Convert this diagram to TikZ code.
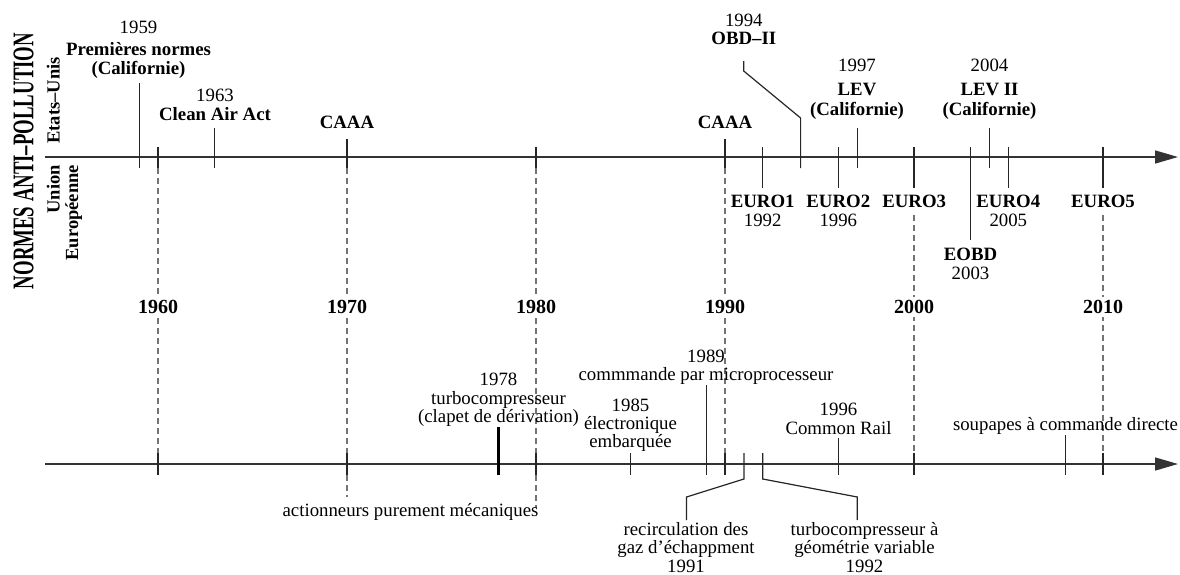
\documentclass[tikz,border=0pt]{standalone}
\usepackage{graphicx}
\usepackage{fontspec}
\setmainfont{Liberation Serif}
\usetikzlibrary{arrows.meta}
\begin{document}
\begin{tikzpicture}[x=1pt,y=-1pt,
  every node/.style={inner sep=0pt},
  lbl/.style={font=\fontsize{18.8}{19}\selectfont, align=center},
  blbl/.style={font=\fontsize{18.8}{19}\selectfont\bfseries, align=center},
  blk/.style={lbl, anchor=north},
  decade/.style={font=\fontsize{20}{22}\selectfont\bfseries, fill=white, inner sep=3pt, anchor=base},
  axisline/.style={line width=1.4pt, draw=black!80, -{Triangle[length=23pt,width=13pt]}},
  tick/.style={line width=1.2pt, draw=black!85},
  thicktick/.style={line width=3pt, draw=black},
  guide/.style={line width=1.1pt, draw=black!55, dash pattern=on 5.5pt off 4.5pt},
  side/.style={font=\fontsize{18.5}{19}\selectfont\bfseries, rotate=90},
]
\useasboundingbox (0,0) rectangle (1180,574);

% ---------- axes ----------
\coordinate (tA0) at (45,157);  \coordinate (tA1) at (1178,157);
\coordinate (bA0) at (45,464);  \coordinate (bA1) at (1178,464);
\draw[axisline] (tA0) -- (tA1);
\draw[axisline] (bA0) -- (bA1);

% ---------- decade guides ----------
\draw[guide] (158,168) -- (158,453);
\draw[guide] (347,168) -- (347,453);
\draw[guide] (536,168) -- (536,453);
\draw[guide] (725,168) -- (725,453);
\draw[guide] (914,215) -- (914,453);
\draw[guide] (1103,215) -- (1103,453);
\draw[guide] (347,475) -- (347,497);
\draw[guide] (536,475) -- (536,508);

\node[decade] (d1960) at (158,313.3) {1960};
\node[decade] (d1970) at (347,313.3) {1970};
\node[decade] (d1980) at (536,313.3) {1980};
\node[decade] (d1990) at (725,313.3) {1990};
\node[decade] (d2000) at (914,313.3) {2000};
\node[decade] (d2010) at (1103,313.3) {2010};

% ---------- side titles ----------
\node[rotate=90, anchor=base, font=\fontsize{30}{32}\selectfont\bfseries] (title) at (33.3,161)
  {\scalebox{0.626}[1]{NORMES ANTI–POLLUTION}};
\node[side, anchor=base] (us) at (59.5,100.5) {Etats–Unis};
\node[side, anchor=base east] (eu1) at (59.5,165) {Union};
\node[side, anchor=base east] (eu2) at (78,165) {Européenne};

% ---------- upper axis: regulations ----------
\draw[tick] (139.1,83) -- (139.1,168);
\draw[tick] (158,147) -- (158,168);
\draw[tick] (214.7,128) -- (214.7,168);
\draw[tick] (347,139) -- (347,168);
\draw[tick] (536,147) -- (536,168);
\draw[tick] (725,139) -- (725,168);
\draw[tick] (762.8,147) -- (762.8,188);
\draw[tick] (800.6,168) -- (800.6,118) -- (743.7,71) -- (743.7,61);
\draw[tick] (838.4,147) -- (838.4,188);
\draw[tick] (857.3,128) -- (857.3,168);
\draw[tick] (914,147) -- (914,188);
\draw[tick] (970.7,147) -- (970.7,240);
\draw[tick] (989.6,128) -- (989.6,168);
\draw[tick] (1008.5,147) -- (1008.5,188);
\draw[tick] (1103,147) -- (1103,188);

\node[blk] (n1959) at (138.5,20.9) {1959\\[3pt]\textbf{Premières normes}\\[-0.5pt]\textbf{(Californie)}};
\node[blk] (n1963) at (215,88.4) {1963\\\textbf{Clean Air Act}};
\node[blbl, anchor=base] (caaa70) at (347,128.3) {CAAA};
\node[blbl, anchor=base] (caaa90) at (725,128.3) {CAAA};
\node[blk] (n1994) at (743.8,14.1) {1994\\[-1.4pt]\textbf{OBD–II}};
\node[blk] (n1997) at (857,59.1) {1997\\[4.3pt]\textbf{LEV}\\[1pt]\textbf{(Californie)}};
\node[blk] (n2004) at (989.5,59.1) {2004\\[4.3pt]\textbf{LEV II}\\[1pt]\textbf{(Californie)}};
\node[blk] (euro1) at (762.7,194.8) {\textbf{EURO1}\\[0.4pt]1992};
\node[blk] (euro2) at (838.3,194.8) {\textbf{EURO2}\\[0.4pt]1996};
\node[blbl, anchor=base] (euro3) at (914.2,207.3) {EURO3};
\node[blk] (euro4) at (1008.3,194.8) {\textbf{EURO4}\\[0.4pt]2005};
\node[blbl, anchor=base] (euro5) at (1103,207.3) {EURO5};
\node[blk] (eobd) at (970.5,247.5) {\textbf{EOBD}\\[0.3pt]2003};

% ---------- lower axis: technologies ----------
\draw[tick] (158,453) -- (158,475);
\draw[tick] (347,453) -- (347,475);
\draw[thicktick] (498.2,427) -- (498.2,475);
\draw[tick] (536,453) -- (536,475);
\draw[tick] (630.5,453) -- (630.5,475);
\draw[tick] (706.1,385) -- (706.1,475);
\draw[tick] (725,453) -- (725,475);
\draw[tick] (743.9,453) -- (743.9,479) -- (686.5,497) -- (686.5,520);
\draw[tick] (762.8,453) -- (762.8,479) -- (857.3,497) -- (857.3,520);
\draw[tick] (838.4,438) -- (838.4,475);
\draw[tick] (914,453) -- (914,475);
\draw[tick] (1065.2,435) -- (1065.2,475);
\draw[tick] (1103,453) -- (1103,475);

\node[blk] (t1978) at (498.5,372.4) {1978\\turbocompresseur\\[-1pt](clapet de dérivation)};
\node[blk] (t1985) at (630.5,399.1) {1985\\[-1pt]électronique\\[-1pt]embarquée};
\node[blk] (t1989) at (706,350.1) {1989\\[-1pt]commmande par microprocesseur};
\node[blk] (t1996) at (838.5,402.4) {1996\\[0.3pt]Common Rail};
\node[lbl, anchor=base] (t2008) at (1065.5,430.7) {soupapes à commande directe};
\node[lbl, anchor=base] (mech) at (410.5,516.7) {actionneurs purement mécaniques};
\node[blk] (t1991) at (686,522.5) {recirculation des\\[-1pt]gaz d’échappment\\[-0.3pt]1991};
\node[blk] (t1992) at (864.5,522.5) {turbocompresseur à\\[-1pt]géométrie variable\\[-0.3pt]1992};
\end{tikzpicture}
\end{document}
